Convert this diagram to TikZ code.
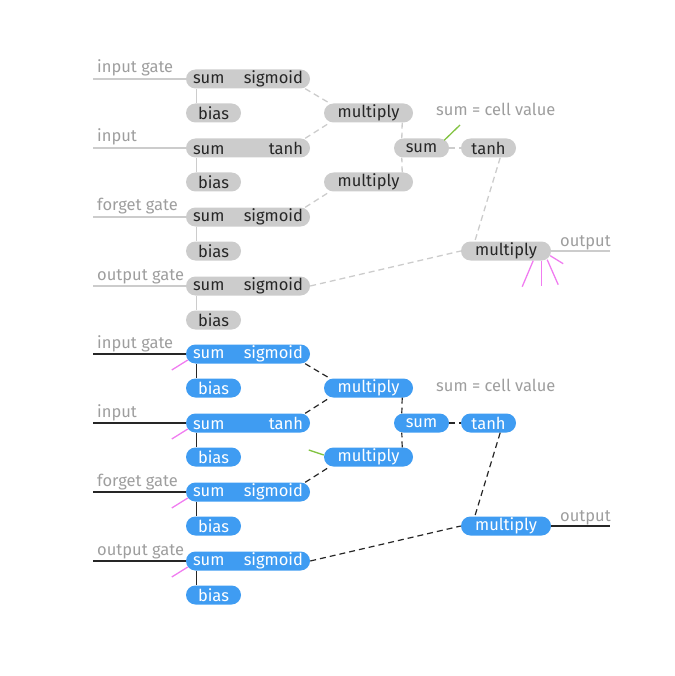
\documentclass[tikz,border=0pt]{standalone}
\usepackage{fontspec}
\setmainfont{Fira Sans}
\usetikzlibrary{calc, positioning}
\definecolor{pillgray}{HTML}{CCCCCC}
\definecolor{pillblue}{HTML}{3F9CF2}
\definecolor{labelgray}{HTML}{9E9E9E}
\definecolor{pinkline}{HTML}{F07CF0}
\definecolor{greenline}{HTML}{82C341}

\begin{document}
\begin{tikzpicture}[x=1pt, y=-1pt,
  pill/.style={rounded corners=9.5pt, minimum height=19pt, inner sep=0pt,
    font=\fontsize{16.5}{16.5}\selectfont},
  graypill/.style={pill, fill=pillgray, text=black!85},
  bluepill/.style={pill, fill=pillblue, text=white},
  lbl/.style={text=labelgray, anchor=base west, inner sep=0pt,
    font=\fontsize{16.5}{16.5}\selectfont},
  grayline/.style={pillgray, line width=1.3pt},
  blackline/.style={black!85, line width=1.2pt},
  grayconn/.style={grayline, dash pattern=on 6pt off 4pt},
  blackconn/.style={blackline, dash pattern=on 6pt off 4pt},
  accent/.style={line width=1.3pt}]
\useasboundingbox (0,0) rectangle (674,676);

% two copies: gray one on top, blue one below
\foreach \h/\pst/\lst/\cst in {0/graypill/grayline/grayconn, 275/bluepill/blackline/blackconn}{
  % gate rows
  \foreach \i/\txt/\fn/\y in {1/input gate/sigmoid/79, 2/input/tanh/148,
                              3/forget gate/sigmoid/217, 4/output gate/sigmoid/286}{
    \node[\pst, minimum width=124pt, text width=110pt] (s\h-\i) at (248,\y+\h) {sum\hfill\fn};
    \node[\pst, minimum width=55pt] (b\h-\i) at (213.5,\y+34+\h) {bias};
    \node[lbl] (l\h-\i) at (97,\y-6+\h) {\txt};
    \coordinate (in\h-\i) at (93,\y+\h);
    \draw[\lst] (in\h-\i) -- (s\h-\i.west);
    \draw[\lst] ([xshift=11pt]s\h-\i.south west) -- ([xshift=11pt]b\h-\i.north west);
  }
  % cell
  \node[\pst, minimum width=89pt] (ma\h) at (368.5,113+\h) {multiply};
  \node[\pst, minimum width=89pt] (mb\h) at (368.5,182+\h) {multiply};
  \node[\pst, minimum width=55pt] (c\h) at (421.5,148+\h) {sum};
  \node[\pst, minimum width=55pt] (t\h) at (488.5,148+\h) {tanh};
  \node[\pst, minimum width=90pt] (mo\h) at (506,251+\h) {multiply};
  \node[lbl] (cv\h) at (436,116+\h) {sum = cell value};
  \node[lbl] (ol\h) at (560,246+\h) {output};
  \coordinate (out\h) at (610,251+\h);
  \draw[\lst] (mo\h.east) -- (out\h);

  \draw[\cst] ([xshift=-5pt]s\h-1.south east) -- ([xshift=6pt]ma\h.north west);
  \draw[\cst] ([xshift=-5pt]s\h-2.north east) -- ([xshift=6pt]ma\h.south west);
  \draw[\cst] ([xshift=-5pt]s\h-3.north east) -- ([xshift=6pt]mb\h.south west);
  \draw[\cst] ([xshift=-11pt]ma\h.south east) -- ([xshift=8pt]c\h.north west);
  \draw[\cst] ([xshift=-11pt]mb\h.north east) -- ([xshift=8pt]c\h.south west);
  \draw[\cst] (c\h.east) -- (t\h.west);
  \draw[\cst] ([xshift=-16pt]t\h.south east) -- ([xshift=14pt]mo\h.north west);
  \draw[\cst] (s\h-4.east) -- (mo\h.west);
}

% accents on the gray copy
\coordinate (gtip) at (460,125);
\draw[accent, greenline] ([xshift=-5pt,yshift=-2pt]c0.north east) -- (gtip);
\draw[accent, pinkline] ([xshift=-18pt]mo0.south east) -- ++(-11,26);
\draw[accent, pinkline] ([xshift=-10pt]mo0.south east) -- ++(0,25);
\draw[accent, pinkline] ([xshift=-4pt,yshift=1pt]mo0.south east) -- ++(11,25);
\draw[accent, pinkline] ([xshift=-1pt,yshift=5pt]mo0.south east) -- ++(13,8);

% accents on the blue copy
\foreach \i in {1,...,4}{
  \draw[accent, pinkline] ([xshift=2pt,yshift=-6pt]s275-\i.west) -- ++(-16,10);
}
\draw[accent, greenline] ([yshift=2pt]mb275.west) -- ++(-15,-5);
\end{tikzpicture}
\end{document}
